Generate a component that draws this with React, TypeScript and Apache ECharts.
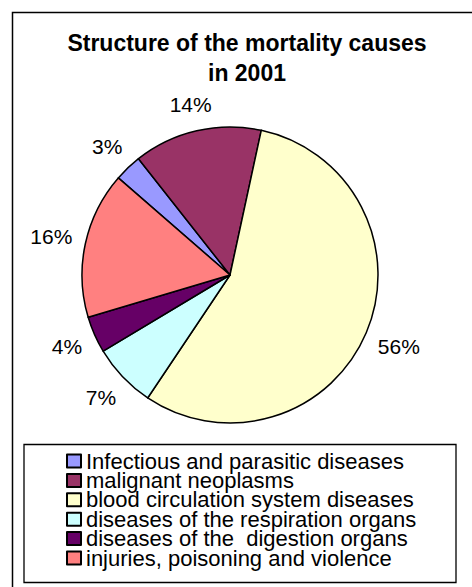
import React, { useEffect, useRef } from 'react';
import * as echarts from 'echarts';

const categories = [
  'Infectious and parasitic diseases',
  'malignant neoplasms',
  'blood circulation system diseases',
  'diseases of the respiration organs',
  'diseases of the  digestion organs',
  'injuries, poisoning and violence',
];
const values = [3, 14, 56, 7, 4, 16];
const colors = ['#9999FF', '#993366', '#FFFFCC', '#CCFFFF', '#660066', '#FF8080'];
const titleText = 'Structure of the mortality causes\nin 2001';

const FONT = '"Liberation Sans", Arial, sans-serif';
const START = 139;
const CX = 230;
const CY = 275;
const R = 148;
const GAP = 12;

export default function App() {
  const ref = useRef<HTMLDivElement>(null);
  useEffect(() => {
    if (!ref.current) return;
    const chart = echarts.init(ref.current, undefined, { renderer: 'svg' });
    const total = values.reduce((a, b) => a + b, 0);
    const mids: number[] = [];
    let acc = 0;
    values.forEach((v) => {
      mids.push(START - ((acc + v / 2) / total) * 360);
      acc += v;
    });
    chart.setOption({
      animation: false,
      backgroundColor: '#fff',
      title: {
        text: titleText,
        left: 247,
        top: 28,
        padding: 0,
        textAlign: 'center',
        textVerticalAlign: 'top',
        textStyle: { fontFamily: FONT, fontSize: 23, fontWeight: 'bold', color: '#000', lineHeight: 30 },
      },
      legend: {
        orient: 'vertical',
        left: 66,
        top: 450,
        padding: 0,
        itemGap: -2.6,
        itemWidth: 14,
        itemHeight: 13,
        icon: 'rect',
        selectedMode: false,
        textStyle: { fontFamily: FONT, fontSize: 22, color: '#000' },
        data: categories,
      },
      graphic: [
        {
          type: 'rect',
          silent: true,
          z: -1,
          shape: { x: 12.5, y: 12.5, width: 700, height: 700 },
          style: { fill: 'none', stroke: '#000', lineWidth: 1.5 },
        },
        {
          type: 'rect',
          silent: true,
          shape: { x: 24, y: 444.5, width: 432, height: 138 },
          style: { fill: 'none', stroke: '#000', lineWidth: 1.3 },
        },
      ],
      series: [
        {
          type: 'pie',
          center: [CX, CY],
          radius: R,
          startAngle: START,
          clockwise: true,
          avoidLabelOverlap: false,
          itemStyle: { borderColor: '#000', borderWidth: 1.5 },
          label: {
            show: true,
            position: 'outside',
            formatter: '{c}%',
            fontFamily: FONT,
            fontSize: 21,
            color: '#000',
          },
          labelLine: { show: false },
          labelLayout: (p: any) => {
            const a = (mids[p.dataIndex] * Math.PI) / 180;
            const dx = Math.cos(a);
            const dy = -Math.sin(a);
            const w = p.labelRect.width;
            const h = p.labelRect.height;
            const d = R + GAP + (Math.abs(dx) * w) / 2 + (Math.abs(dy) * h) / 2;
            return { x: CX + dx * d, y: CY + dy * d, align: 'center', verticalAlign: 'middle' };
          },
          emphasis: { disabled: true },
          data: categories.map((name, i) => ({ name, value: values[i], itemStyle: { color: colors[i] } })),
        },
      ],
    });
    return () => chart.dispose();
  }, []);
  return (
    <div
      ref={ref}
      style={{ position: 'fixed', left: 0, top: 0, width: 472, height: 587, background: '#fff' }}
    />
  );
}
